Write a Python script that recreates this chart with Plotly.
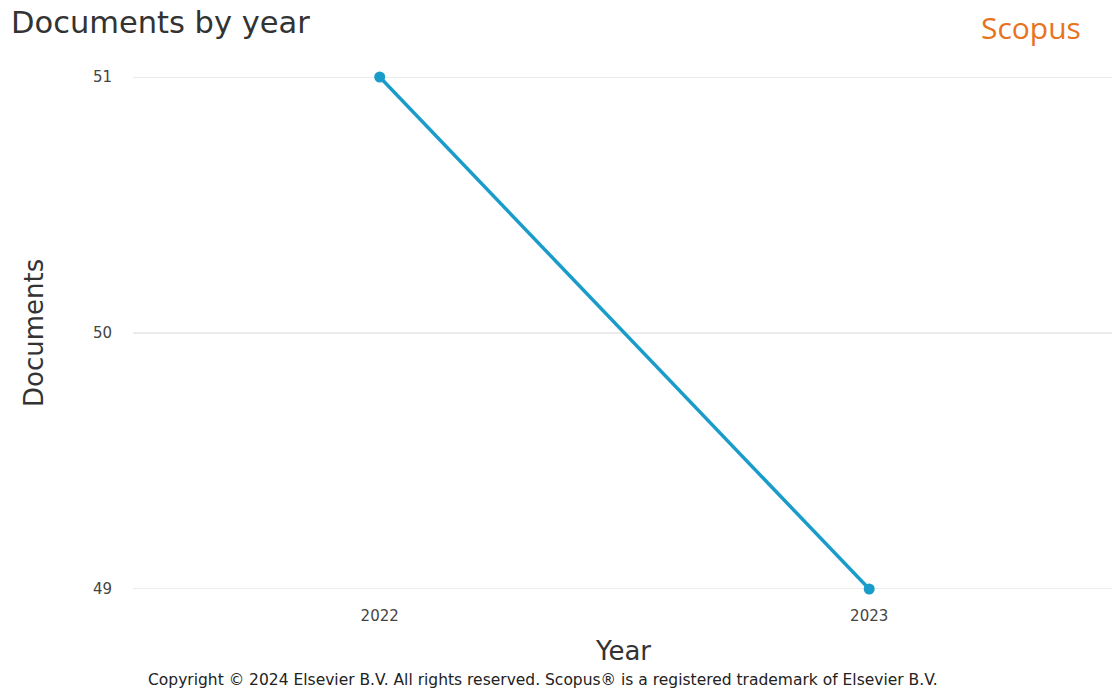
import plotly.graph_objects as go

years = ["2022", "2023"]
documents = [51, 49]
y_ticks = [49, 50, 51]

W, H = 1112, 688
L, R, T, B = 133, 0, 77, 99
ph = H - T - B

def py(pix):
    return (H - B - pix) / ph

def px(pix):
    return (pix - L) / (W - L - R)

fig = go.Figure()
fig.add_trace(go.Scatter(
    x=years, y=documents, mode="lines+markers",
    line=dict(color="#1a9ccb", width=3.5),
    marker=dict(color="#1a9ccb", size=11),
    cliponaxis=False, showlegend=False,
))

for v in y_ticks:
    fig.add_shape(type="line", xref="paper", x0=0, x1=1, yref="y", y0=v, y1=v,
                  line=dict(color="#d8d8d8", width=1), layer="below")

font = "DejaVu Sans"
fig.update_layout(
    width=W, height=H,
    margin=dict(l=L, r=R, t=T, b=B),
    paper_bgcolor="white", plot_bgcolor="white",
    font=dict(family=font, color="#333333"),
    xaxis=dict(type="category", range=[-0.504, 1.496], showgrid=False, zeroline=False,
               showline=False, ticks="", tickfont=dict(size=15, color="#444444"),
               ticklabelstandoff=16),
    yaxis=dict(range=[49, 51], tickvals=y_ticks, ticktext=[str(v) for v in y_ticks],
               showgrid=False, zeroline=False,
               showline=False, ticks="", tickfont=dict(size=15, color="#444444"),
               ticklabelstandoff=20),
    annotations=[
        dict(text="Documents by year", x=px(9), y=py(22), xref="paper", yref="paper",
             xanchor="left", yanchor="middle", showarrow=False,
             font=dict(size=30.5, color="#333333", family=font)),
        dict(text="Scopus", x=px(1083), y=py(27), xref="paper", yref="paper",
             xanchor="right", yanchor="middle", showarrow=False,
             font=dict(size=30, color="#e8731e", family="Open Sans")),
        dict(text="Documents", x=px(34), y=0.5, xref="paper", yref="paper",
             xanchor="center", yanchor="middle", textangle=-90, showarrow=False,
             font=dict(size=26, color="#333333", family=font)),
        dict(text="Year", x=0.5, y=py(651), xref="paper", yref="paper",
             xanchor="center", yanchor="middle", showarrow=False,
             font=dict(size=26, color="#333333", family=font)),
        dict(text="Copyright © 2024 Elsevier B.V. All rights reserved. Scopus® is a registered trademark of Elsevier B.V.",
             x=px(543), y=py(680), xref="paper", yref="paper",
             xanchor="center", yanchor="middle", showarrow=False,
             font=dict(size=15.5, color="#222222", family=font)),
    ],
)

fig.write_html("out.html", config={"displayModeBar": False},
               post_script="document.body.style.margin='0';document.body.style.overflow='hidden';")
